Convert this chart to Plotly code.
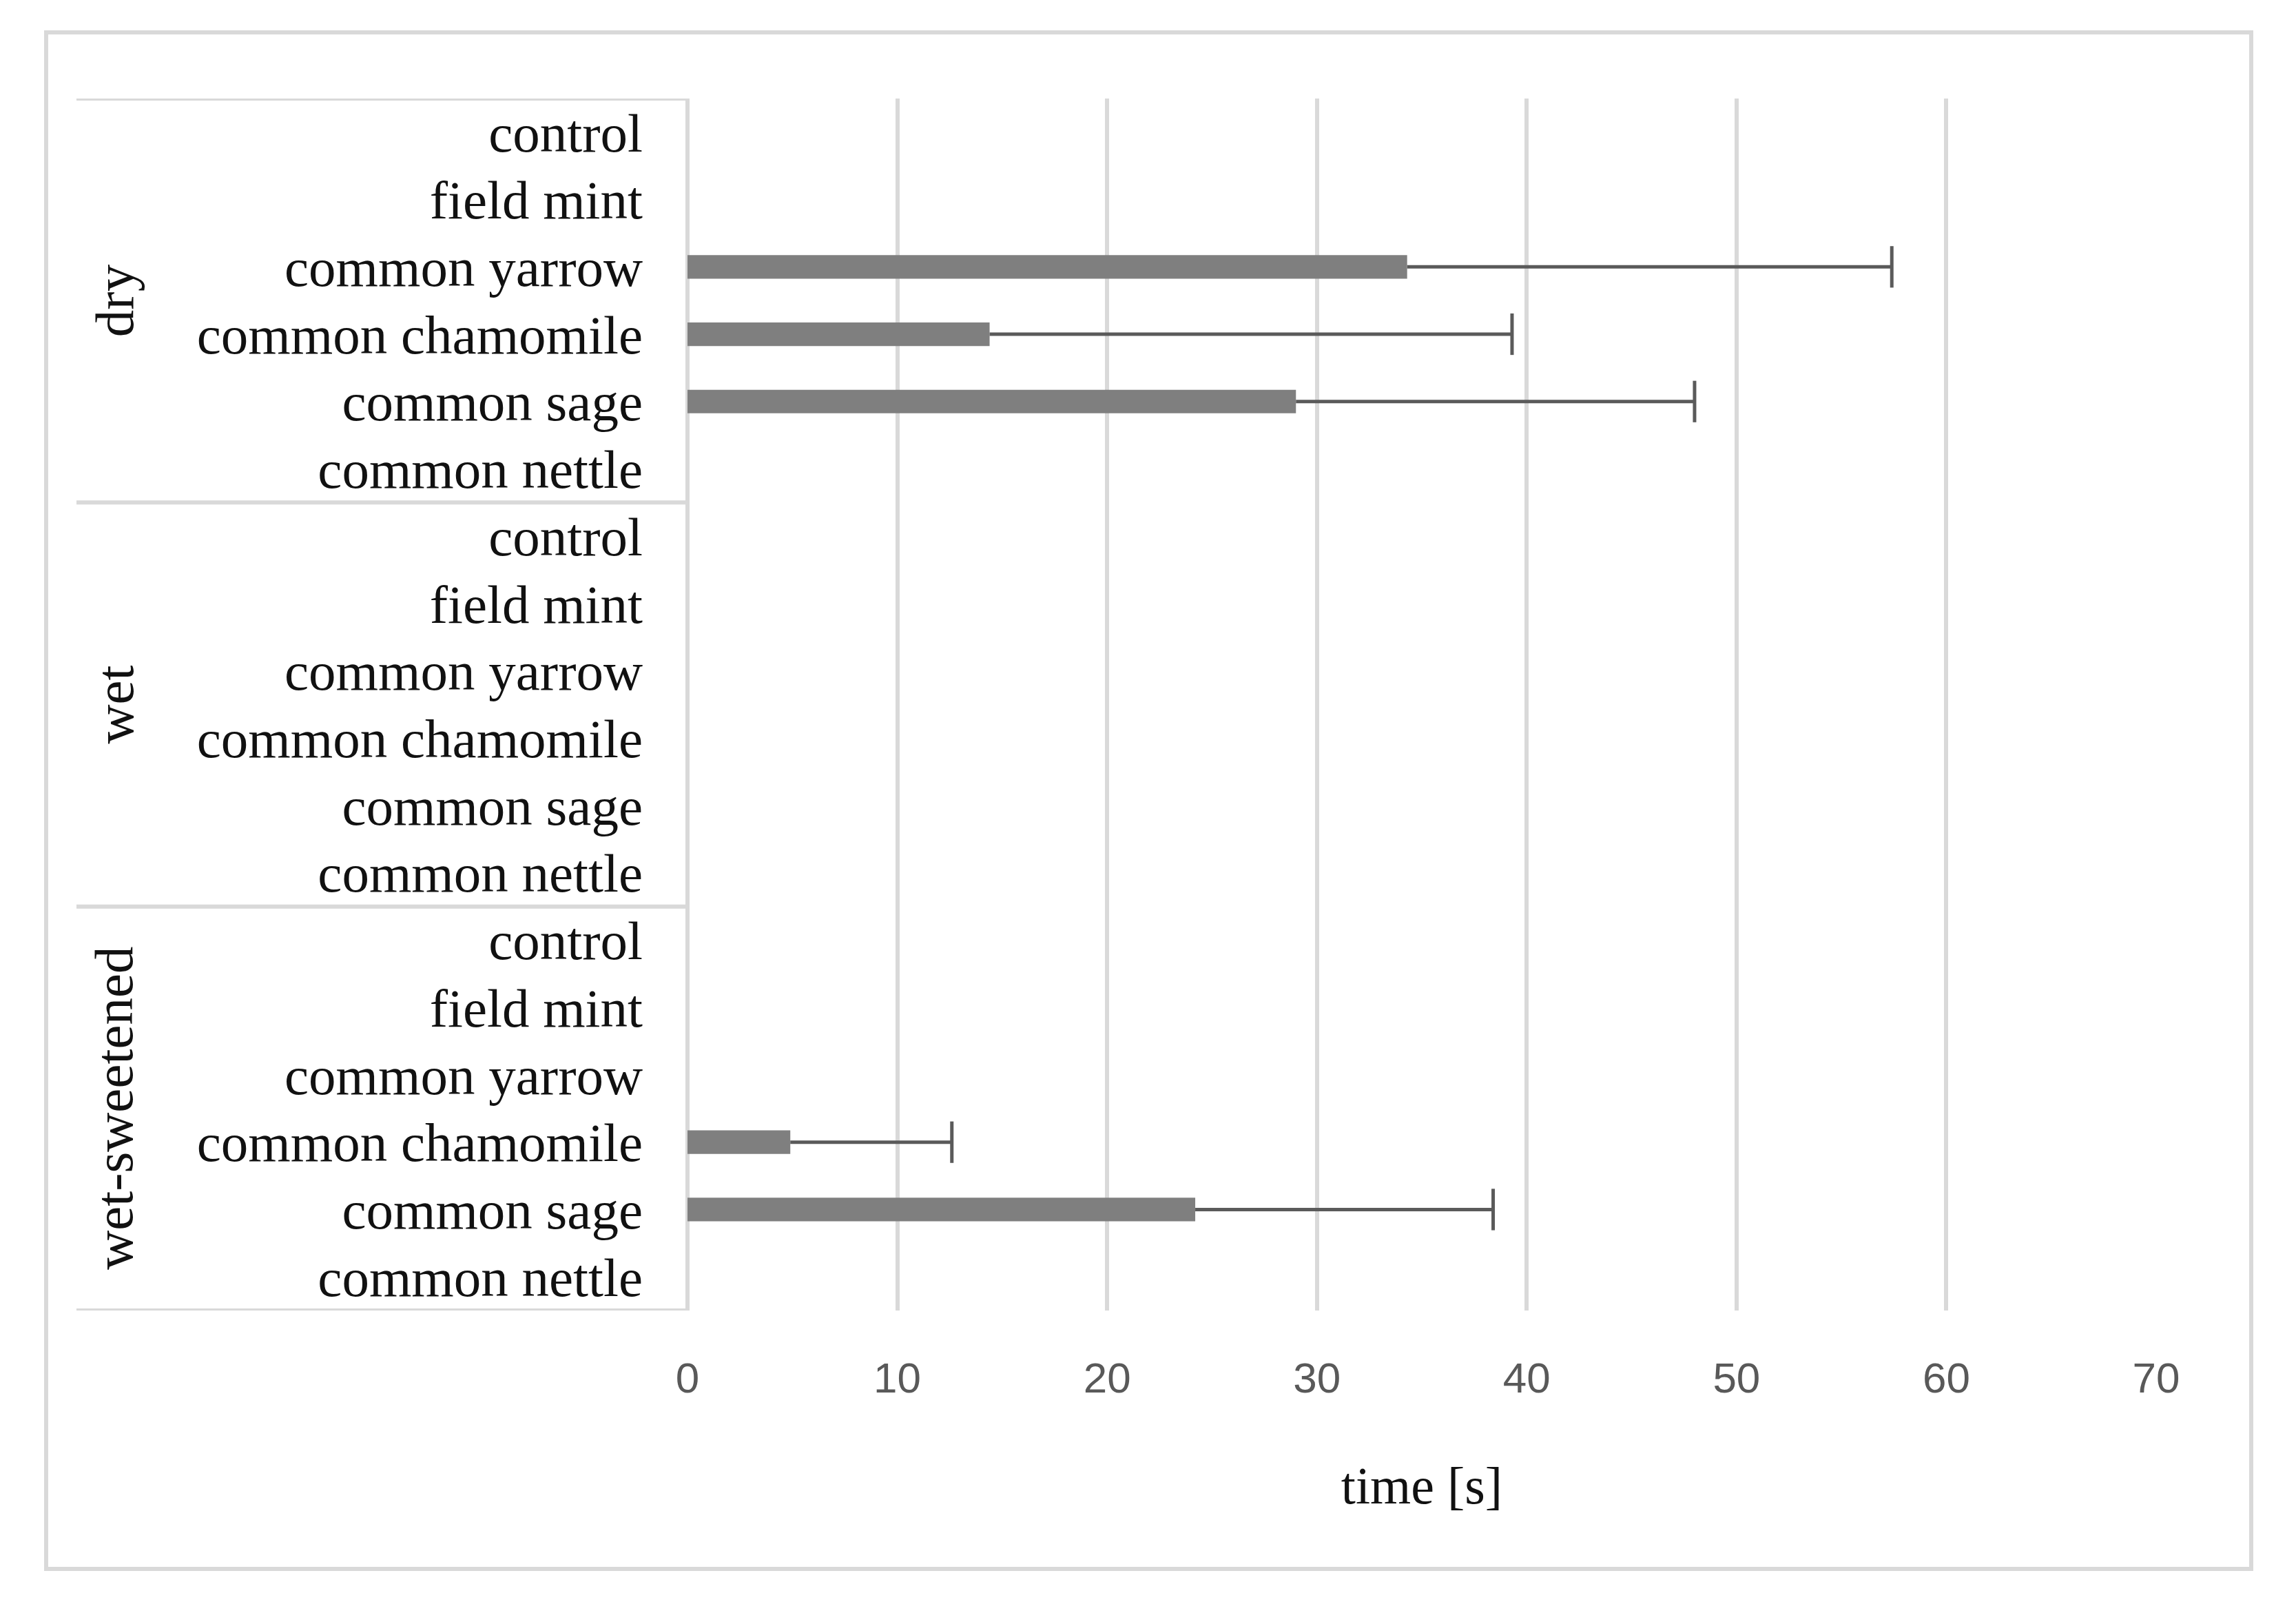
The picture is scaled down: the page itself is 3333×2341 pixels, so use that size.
import plotly.graph_objects as go

groups = ["dry", "wet", "wet-sweetened"]
plants = ["control", "field mint", "common yarrow", "common chamomile", "common sage", "common nettle"]

dry_mean = [0, 0, 34.3, 14.4, 29.0, 0]
dry_err = [0, 0, 23.1, 24.9, 19.0, 0]
wet_mean = [0, 0, 0, 0, 0, 0]
wet_err = [0, 0, 0, 0, 0, 0]
sweet_mean = [0, 0, 0, 4.9, 24.2, 0]
sweet_err = [0, 0, 0, 7.7, 14.2, 0]

x_ticks = [0, 10, 20, 30, 40, 50, 60, 70]

means = dry_mean + wet_mean + sweet_mean
errs = dry_err + wet_err + sweet_err
labels = plants * len(groups)
ypos = list(range(len(labels)))

# error bar ends (only where a bar exists)
err_end = [m + e if e > 0 else None for m, e in zip(means, errs)]
err_minus = [e if e > 0 else None for e in errs]

W, H = 3333, 2341
L, R, T, B = 998, 203, 143, 439
pw, ph = W - L - R, H - T - B

def px_to_paper_x(px):
    return (px - L) / pw

def px_to_paper_y(py):
    return (H - B - py) / ph

ERR_COLOR = "#5a5a5a"

fig = go.Figure()
fig.add_trace(go.Bar(
    x=means, y=ypos, orientation="h",
    marker=dict(color="#7f7f7f", line=dict(width=0)),
    width=0.35,
    showlegend=False, hoverinfo="x+y",
))
# error bars: plus side only, with a cap at the end
fig.add_trace(go.Scatter(
    x=err_end, y=ypos, mode="markers",
    marker=dict(symbol="line-ns", size=43, color=ERR_COLOR,
                line=dict(color=ERR_COLOR, width=5)),
    error_x=dict(type="data", symmetric=False,
                 array=[0] * len(ypos), arrayminus=err_minus,
                 visible=True, color=ERR_COLOR, thickness=5, width=0),
    showlegend=False, hoverinfo="skip",
))

serif = "Liberation Serif, Times New Roman, serif"
GRID = "#d9d9d9"

fig.update_layout(
    width=W, height=H,
    margin=dict(l=L, r=R, t=T, b=B, autoexpand=False),
    paper_bgcolor="white", plot_bgcolor="white",
    xaxis=dict(
        range=[0, 70], tickvals=x_ticks, ticktext=[str(v) for v in x_ticks],
        showgrid=True, gridcolor=GRID, gridwidth=6,
        zeroline=True, zerolinecolor=GRID, zerolinewidth=6,
        showline=False, ticks="",
        tickfont=dict(family="Liberation Sans Narrow, Liberation Sans, Arial, sans-serif", size=62, color="#595959"),
        ticklabelstandoff=56,
        title=dict(text="time [s]", font=dict(family=serif, size=76, color="#111111"), standoff=95),
    ),
    yaxis=dict(
        range=[17.5, -0.5], tickvals=ypos, ticktext=labels,
        showgrid=False, zeroline=False, showline=False, ticks="",
        tickfont=dict(family=serif, size=79, color="#111111"),
        ticklabelstandoff=64,
    ),
)

# group separators in category area
for b in [-0.5, 5.5, 11.5, 17.5]:
    fig.add_shape(type="line", xref="paper", yref="y",
                  x0=px_to_paper_x(111), x1=0, y0=b, y1=b,
                  line=dict(color=GRID, width=6), layer="above")

# group labels
for gi, g in enumerate(groups):
    fig.add_annotation(text=g, xref="paper", yref="y",
                       x=px_to_paper_x(166), y=gi * 6 + 2.5,
                       textangle=-90, showarrow=False,
                       font=dict(family=serif, size=79, color="#111111"),
                       xanchor="center", yanchor="middle")

# outer frame
fig.add_shape(type="rect", xref="paper", yref="paper",
              x0=px_to_paper_x(67), x1=px_to_paper_x(3268),
              y0=px_to_paper_y(2277), y1=px_to_paper_y(47),
              line=dict(color=GRID, width=6), layer="below")

fig.write_html(
    "out.html",
    config={"displayModeBar": False},
    post_script="document.body.style.margin='0';document.documentElement.style.overflow='hidden';",
)
